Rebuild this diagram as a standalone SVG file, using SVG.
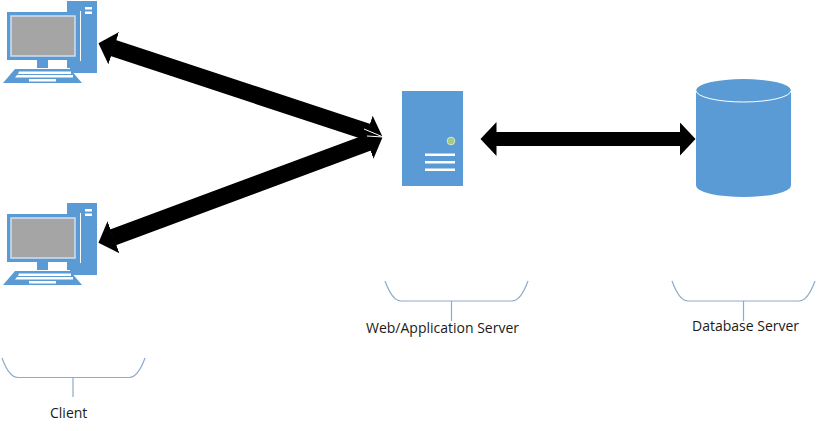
<svg xmlns="http://www.w3.org/2000/svg" xmlns:xlink="http://www.w3.org/1999/xlink" width="817" height="431" viewBox="0 0 817 431">
<style>
.b{fill:#5b9bd5}
.w{fill:#fff}
.brace{fill:none;stroke:#8fabc9;stroke-width:1.2}
.c{stroke:#000;stroke-width:17;fill:none;marker-start:url(#h);marker-end:url(#h)}
.s{stroke-width:14}
text{font-family:"Open Sans","Noto Sans",sans-serif;font-size:14px;fill:#1a1a1a}
</style>
<defs>
<marker id="h" markerUnits="userSpaceOnUse" markerWidth="18" markerHeight="36" refX="0.500" refY="18" orient="auto-start-reverse"><path d="M0 1L16 18L0 35Z" fill="#000"/></marker>
<g id="pc">
<rect class="b" x="67" y="1" width="30" height="72"/>
<rect class="w" x="85" y="7" width="7" height="2.5"/>
<rect class="w" x="85" y="11.500" width="7" height="2.500"/>
<rect class="w" x="80" y="11" width="1" height="50"/>
<rect class="b" x="7" y="12" width="73" height="48"/>
<rect x="11" y="16" width="64" height="40" fill="#a5a5a5" stroke="#cfe0f1" stroke-width="1.500"/>
<rect class="b" x="37" y="60" width="11" height="8"/>
<path class="w" d="M15 68H70V69H15Z"/>
<path class="b" d="M15 69H70L82 83H3Z"/>
<path class="w" d="M19 71.500H71V74H18ZM17 75H73V77.500H15ZM29 79H56V81.500H29Z"/>
</g>
</defs>
<rect width="817" height="431" fill="#fff"/>
<g id="connectors">
<line class="c" x1="113.200" y1="48" x2="367.800" y2="132"/>
<line class="c" x1="113" y1="237.400" x2="368" y2="142.600"/>
<line class="c s" x1="496" y1="139" x2="680" y2="139"/>
<path d="M364 129L383 137L367 136" fill="none" stroke="#fff" stroke-width="1"/>
</g>
<g id="client1"><use xlink:href="#pc" href="#pc"/></g>
<g id="client2"><use xlink:href="#pc" href="#pc" y="202"/></g>
<g id="web-server">
<rect class="b" x="402" y="91" width="61" height="95"/>
<circle cx="451" cy="141" r="3.800" fill="#a5c882" stroke="#d8e8d0" stroke-width="1"/>
<rect class="w" x="425" y="153.500" width="30" height="2.500"/>
<rect class="w" x="425" y="161" width="30" height="2.500"/>
<rect class="w" x="425" y="168.500" width="30" height="2.500"/>
</g>
<g id="database">
<path class="b" d="M696 90.500A47.500 11.500 0 0 1 791 90.500V185.500A47.500 11.500 0 0 1 696 185.500Z"/>
<path d="M696 90.500A47.500 11.500 0 0 0 791 90.500" fill="none" stroke="#fff" stroke-width="1"/>
</g>
<g id="label-client">
<path class="brace" d="M2 358C6 369 11 377.500 18 377.500H129C136 377.500 141 369 145 358M73 377.500V397"/>
<text x="50" y="418">Client</text>
</g>
<g id="label-web">
<path class="brace" d="M385 281C389 292 394 301 401 301H512C519 301 524 292 528 281M451.500 301V321"/>
<text x="366" y="333">Web/Application Server</text>
</g>
<g id="label-db">
<path class="brace" d="M672 281C676 292 681 301 688 301H799C806 301 811 292 815 281M743.500 301V321"/>
<text x="692" y="331">Database Server</text>
</g>
</svg>
